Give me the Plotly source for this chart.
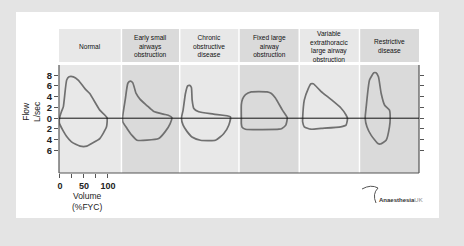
import plotly.graph_objects as go
from plotly.subplots import make_subplots

# ---------------- data ----------------
panel_titles = [
    "Normal",
    "Early small<br>airways<br>obstruction",
    "Chronic<br>obstructive<br>disease",
    "Fixed large<br>airway<br>obstruction",
    "Variable<br>extrathoracic<br>large airway<br>obstruction",
    "Restrictive<br>disease",
]

normal_vol = [-1, 3, 7, 14, 19, 28, 38, 52, 62, 83, 98, 97, 83, 66, 56, 42, 24, 14, 7, -1, -1]
normal_flow = [0, 1.2, 2.1, 7.1, 7.7, 7.7, 7.1, 5.5, 4.6, 1.5, 0.1, -1.6, -3.8, -4.7, -5.2, -5.2, -4.4, -3.4, -2.4, -1, 0]

early_vol = [-1.4, 4.3, 9.8, 14.7, 20, 27, 35.5, 49, 63, 84, 94, 101.5, 98, 87.6, 74, 49.6, 29, 18.5, 8, -0.6, -1.4]
early_flow = [0, 3.4, 6.5, 6.9, 6.6, 4.6, 3.5, 2.4, 1.3, 0.75, 0.56, 0.1, -1, -2.5, -3.8, -4.1, -4.1, -3.2, -1.9, -0.7, 0]

chronic_vol = [0, 3.5, 8.4, 13, 17.4, 20.8, 22.3, 25.8, 36, 67, 102, 98.6, 88, 71, 39.7, 22, 11.9, 3.5, 0]
chronic_flow = [0, 1.5, 4.6, 6.0, 6.1, 5.7, 3.4, 1.8, 1.2, 0.75, 0.25, -1.3, -2.9, -4.1, -4.1, -3.5, -2.5, -1.3, 0]

fixed_vol = [1.4, 1.4, 4, 10, 22, 55, 64, 72, 87, 97, 94, 86, 80, 10, 3, 1.4, 1.4]
fixed_flow = [0, 2.5, 3.6, 4.4, 4.9, 4.9, 4.6, 3.8, 1.5, 0.1, -1.3, -1.9, -2.05, -2.05, -1.7, -1, 0]

variable_vol = [3.6, 7, 15.3, 21, 25.9, 41.7, 62.6, 83.4, 94, 97, 94, 83, 42, 21, 7, 3.6, 3.6]
variable_flow = [0, 3.35, 5.5, 6.4, 6.4, 5.0, 3.5, 1.9, 0.6, -0.05, -1.3, -1.6, -1.9, -2.05, -1.6, -0.7, 0]

restrictive_vol = [8.4, 10.5, 17.4, 26.5, 31, 36, 41.7, 49, 59, 60.5, 59, 52, 40, 34.8, 21, 12, 8.4]
restrictive_flow = [0, 2.1, 7.1, 8.45, 8.45, 7.7, 4.6, 2.4, 1.5, 0, -1.6, -4.1, -4.8, -4.7, -3.2, -1.6, 0]

flow_tickvals = [8, 6, 4, 2, 0, -2, -4, -6]
flow_ticktext = ["8", "6", "4", "2", "0", "2", "4", "6"]
vol_tickvals = [0, 25, 50, 75, 100]
vol_ticktext = ["0", "", "50", "", "100"]

loops = [
    (normal_vol, normal_flow),
    (early_vol, early_flow),
    (chronic_vol, chronic_flow),
    (fixed_vol, fixed_flow),
    (variable_vol, variable_flow),
    (restrictive_vol, restrictive_flow),
]

# ---------------- styling ----------------
W, H = 464, 246
ML, MR, MT, MB = 59, 45, 65, 73
PW = W - ML - MR   # 360
PH = H - MT - MB   # 108
PX_PER_PCT = 0.48
YR = [-10.2, 9.9]

light_bg = "#e8e8e8"
dark_bg = "#dadada"
panel_cols = [light_bg, dark_bg, light_bg, dark_bg, light_bg, dark_bg]
FONT = "Liberation Sans, Arial, sans-serif"
loop_color = "#707070"
axis_color = "#555555"


def px_x(px):
    return (px - ML) / PW


def px_y(py):
    return (MT + PH - py) / PH


fig = make_subplots(rows=1, cols=6, column_widths=[63, 58, 59, 60, 60, 60],
                    horizontal_spacing=0.004, shared_yaxes=True)

for i, (v, f) in enumerate(loops):
    fig.add_trace(go.Scatter(x=v, y=f, mode="lines",
                             line=dict(color=loop_color, width=1.7, shape="spline", smoothing=0.5),
                             hoverinfo="skip", showlegend=False), row=1, col=i + 1)

shapes = []
# white card
shapes.append(dict(type="rect", xref="paper", yref="paper",
                   x0=px_x(16), x1=px_x(439), y0=px_y(218), y1=px_y(12),
                   fillcolor="white", line=dict(width=0), layer="below"))

for i in range(6):
    n = "" if i == 0 else str(i + 1)
    xa = fig.layout["xaxis" + n]
    d0, d1 = xa.domain
    width_px = (d1 - d0) * PW
    xa.update(range=[-2, -2 + width_px / PX_PER_PCT], showgrid=False, zeroline=False,
              showline=False, fixedrange=True)
    if i == 0:
        xa.update(tickmode="array", tickvals=vol_tickvals, ticktext=vol_ticktext,
                  ticks="outside", ticklen=4, tickcolor=axis_color, tickwidth=1,
                  tickfont=dict(family=FONT, size=9, color="#222", weight="bold"))
    else:
        xa.update(showticklabels=False, ticks="")
    # panel background
    shapes.append(dict(type="rect", xref="x" + n + " domain", yref="y domain",
                       x0=0, x1=1, y0=0, y1=1, fillcolor=panel_cols[i],
                       line=dict(width=0), layer="below"))
    # header box
    shapes.append(dict(type="rect", xref="x" + n + " domain", yref="paper",
                       x0=0, x1=1, y0=px_y(62), y1=px_y(29), fillcolor=panel_cols[i],
                       line=dict(width=0), layer="below"))
    fig.add_annotation(text=panel_titles[i], xref="x" + n + " domain", yref="paper",
                       x=0.5, y=px_y(46), showarrow=False, xanchor="center", yanchor="middle",
                       font=dict(family=FONT, size=6.6, color="#111"))

# y axes
fig.layout.yaxis.update(range=YR, tickmode="array", tickvals=flow_tickvals, ticktext=flow_ticktext,
                        ticks="outside", ticklen=4, tickcolor=axis_color, showgrid=False,
                        zeroline=False, showline=False, fixedrange=True,
                        tickfont=dict(family=FONT, size=9.5, color="#222", weight="bold"))
for k in range(2, 7):
    fig.layout["yaxis" + str(k)].update(range=YR, showgrid=False, zeroline=False, ticks="",
                                        showticklabels=False, showline=False)

# right-side tick axis
fig.add_trace(go.Scatter(x=[None], y=[None], xaxis="x6", yaxis="y7", showlegend=False,
                         hoverinfo="skip"))
fig.update_layout(yaxis7=dict(overlaying="y", anchor="x6", side="right", range=YR,
                              tickmode="array", tickvals=flow_tickvals, ticks="outside",
                              ticklen=4, tickcolor=axis_color, showticklabels=False,
                              showgrid=False, zeroline=False, showline=False, fixedrange=True))

# frame lines and zero line
shapes.append(dict(type="line", xref="paper", yref="paper", x0=0, x1=1, y0=0, y1=0,
                   line=dict(color=axis_color, width=1.2)))
shapes.append(dict(type="line", xref="paper", yref="paper", x0=0, x1=0, y0=0, y1=1,
                   line=dict(color=axis_color, width=1.2)))
shapes.append(dict(type="line", xref="paper", yref="paper", x0=1, x1=1, y0=0, y1=1,
                   line=dict(color=axis_color, width=1.2)))
shapes.append(dict(type="line", xref="paper", yref="y", x0=0, x1=1, y0=0, y1=0,
                   line=dict(color="#111111", width=1)))

# logo swoosh
sx = [px_x(v) for v in (362, 371, 378, 372, 376)]
sy = [px_y(v) for v in (189, 184, 188, 194, 203)]
shapes.append(dict(type="path", xref="paper", yref="paper",
                   path=f"M {sx[0]},{sy[0]} Q {sx[1]},{sy[1]} {sx[2]},{sy[2]} Q {sx[3]},{sy[3]} {sx[4]},{sy[4]}",
                   line=dict(color="#555", width=1)))

fig.update_layout(shapes=shapes)

fig.add_annotation(text="Flow<br>L/sec", xref="paper", yref="paper", x=px_x(31), y=px_y(112),
                   textangle=-90, showarrow=False, xanchor="center", yanchor="middle",
                   font=dict(family=FONT, size=8.5, color="#222"))
fig.add_annotation(text="Volume<br>(%FYC)", xref="paper", yref="paper", x=px_x(87), y=px_y(201),
                   showarrow=False, xanchor="center", yanchor="middle",
                   font=dict(family=FONT, size=8.5, color="#222"))
fig.add_annotation(text="<b>Anaesthesia</b><span style='color:#888'>UK</span>", xref="paper",
                   yref="paper", x=px_x(377), y=px_y(200), showarrow=False, xanchor="left",
                   yanchor="middle", font=dict(family=FONT, size=6, color="#333"))

fig.update_layout(width=W, height=H, margin=dict(l=ML, r=MR, t=MT, b=MB),
                  paper_bgcolor="#e4e4e4", plot_bgcolor="rgba(0,0,0,0)",
                  showlegend=False)

fig.write_html("out.html", config={"displayModeBar": False},
               post_script="document.body.style.margin='0';document.body.style.overflow='hidden';document.body.style.background='#e4e4e4';")
